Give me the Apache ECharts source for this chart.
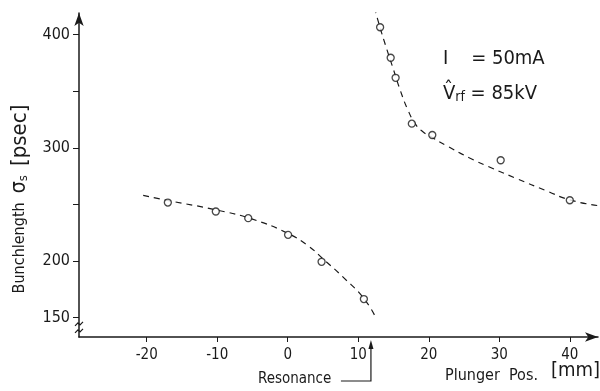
<!DOCTYPE html>
<html>
<head>
<meta charset="utf-8">
<script src="https://cdn.jsdelivr.net/npm/echarts@6/dist/echarts.min.js"></script>
<style>
  html, body { margin: 0; padding: 0; background: #fff; }
  #chart { width: 600px; height: 391px; }
</style>
</head>
<body>
<div id="chart"></div>
<script>
// measured points (plunger position mm, bunch length psec)
const lowerX = [-17.0, -10.2, -5.6, 0.05, 4.8, 10.8];
const lowerY = [251.7, 243.8, 237.9, 223.2, 199.4, 166.5];
const upperX = [13.1, 14.6, 15.3, 17.6, 20.5, 30.2, 40.0];
const upperY = [406.4, 379.5, 361.8, 321.3, 311.3, 289.0, 253.7];

// dashed guide curves
const lowerCurveX = [-20.5, -17, -10, -5, 0, 3, 5, 8, 10.8, 12.5];
const lowerCurveY = [258, 253.5, 245, 237, 224.5, 213, 202, 185, 167, 150];
const upperCurveX = [12.3, 13, 14, 15, 16, 17, 18, 19, 20.5, 22.5, 25.8, 29, 32.4, 36.7, 40, 44];
const upperCurveY = [424, 408, 388, 369, 350, 334, 322, 315, 309, 302, 291, 282, 273, 262, 254, 249];

const xTicks = [-20, -10, 0, 10, 20, 30, 40];
const yTicks = [150, 200, 250, 300, 350, 400];
const yLabels = [150, 200, 300, 400];
const resonance = 11.8;

const ink = '#1a1a1a';
const font = '"DejaVu Sans Condensed", "Liberation Sans Narrow", sans-serif';

const zip = (xs, ys) => xs.map((x, i) => [x, ys[i]]);

let chart = echarts.init(document.getElementById('chart'));

chart.setOption({
    animation: false,
    backgroundColor: '#fff',
    grid: { left: 79, right: 2, top: 13, bottom: 54, containLabel: false, outerBoundsMode: 'none' },
    xAxis: {
        type: 'value',
        min: -29.6,
        max: 44,
        splitLine: { show: false },
        axisLine: {
            onZero: false,
            symbol: ['none', 'arrow'],
            symbolSize: [7, 13],
            lineStyle: { color: ink, width: 1.5 }
        },
        axisTick: {
            customValues: xTicks,
            length: 5,
            lineStyle: { color: ink, width: 1 }
        },
        axisLabel: {
            customValues: xTicks,
            color: ink,
            fontFamily: font,
            fontSize: 15,
            margin: 11
        }
    },
    yAxis: {
        type: 'value',
        min: 133,
        max: 419,
        splitLine: { show: false },
        axisLine: {
            onZero: false,
            symbol: ['none', 'arrow'],
            symbolSize: [7, 13],
            lineStyle: { color: ink, width: 1.5 }
        },
        axisTick: {
            customValues: yTicks,
            length: 6,
            lineStyle: { color: ink, width: 1 }
        },
        axisLabel: {
            customValues: yLabels,
            color: ink,
            fontFamily: font,
            fontSize: 16,
            margin: 9
        }
    },
    series: [
        {
            type: 'line',
            data: zip(lowerCurveX, lowerCurveY),
            smooth: 0.5,
            showSymbol: false,
            lineStyle: { color: ink, width: 1.2, type: [6, 5] },
            z: 2
        },
        {
            type: 'line',
            data: zip(upperCurveX, upperCurveY),
            smooth: 0.5,
            showSymbol: false,
            lineStyle: { color: ink, width: 1.2, type: [6, 5] },
            z: 2
        },
        {
            type: 'scatter',
            data: zip(lowerX, lowerY).concat(zip(upperX, upperY)),
            symbol: 'circle',
            symbolSize: 7,
            itemStyle: { color: '#fff', borderColor: ink, borderWidth: 1.3 },
            z: 3
        }
    ]
});

// annotations placed from the axis scales
const rx = chart.convertToPixel({ xAxisIndex: 0 }, resonance);
const axisY = chart.convertToPixel({ yAxisIndex: 0 }, 133);
const breakY = chart.convertToPixel({ yAxisIndex: 0 }, 141);
const axisX = chart.convertToPixel({ xAxisIndex: 0 }, -29.6);

chart.setOption({
    graphic: [
        // y axis title
        {
            type: 'text',
            x: 20, y: 199,
            rotation: Math.PI / 2,
            style: {
                text: '{a|Bunchlength  }{s|σ}{ss|s}{a|  }{b|[psec]}',
                align: 'center',
                verticalAlign: 'middle',
                rich: {
                    a: { font: '16px ' + font, fill: ink },
                    s: { font: '21px ' + font, fill: ink },
                    ss: { font: '13px ' + font, fill: ink, padding: [8, 0, 0, 0] },
                    b: { font: '22px ' + font, fill: ink }
                }
            }
        },
        // resonance pointer
        {
            type: 'polyline',
            shape: { points: [[rx - 30, axisY + 44], [rx, axisY + 44], [rx, axisY + 9]] },
            style: { stroke: ink, lineWidth: 1.2, fill: null }
        },
        {
            type: 'polygon',
            shape: { points: [[rx - 2.5, axisY + 12], [rx + 2.5, axisY + 12], [rx, axisY + 3]] },
            style: { fill: ink }
        },
        {
            type: 'text',
            left: rx - 113, top: axisY + 35,
            style: { text: 'Resonance', fill: ink, font: '15px ' + font }
        },
        // axis break mark
        {
            type: 'rect',
            shape: { x: axisX - 3, y: breakY - 4, width: 6, height: 8 },
            style: { fill: '#fff' }
        },
        {
            type: 'polyline',
            shape: { points: [[axisX - 4, breakY - 2], [axisX - 1, breakY - 5], [axisX + 1, breakY - 3], [axisX + 4, breakY - 6]] },
            style: { stroke: ink, lineWidth: 1.2, fill: null }
        },
        {
            type: 'polyline',
            shape: { points: [[axisX - 4, breakY + 5], [axisX - 1, breakY + 2], [axisX + 1, breakY + 4], [axisX + 4, breakY + 1]] },
            style: { stroke: ink, lineWidth: 1.2, fill: null }
        },
        // x axis title
        {
            type: 'text',
            left: 445, top: 368,
            style: { text: 'Plunger  Pos.', fill: ink, font: '16px ' + font }
        },
        {
            type: 'text',
            left: 551, top: 361,
            style: { text: '[mm]', fill: ink, font: '20px ' + font }
        },
        // beam parameters
        {
            type: 'text',
            left: 443, top: 49,
            style: { text: 'I    = 50mA', fill: ink, font: '20px ' + font }
        },
        {
            type: 'text',
            left: 444, top: 80,
            style: { text: 'ˆ', fill: ink, font: '20px ' + font }
        },
        {
            type: 'text',
            left: 443, top: 84,
            style: {
                text: '{v|V}{s|rf}{t| = 85kV}',
                rich: {
                    v: { font: '20px ' + font, fill: ink },
                    s: { font: '14px ' + font, fill: ink, padding: [6, 0, 0, 0] },
                    t: { font: '20px ' + font, fill: ink }
                }
            }
        }
    ]
});
</script>
</body>
</html>
